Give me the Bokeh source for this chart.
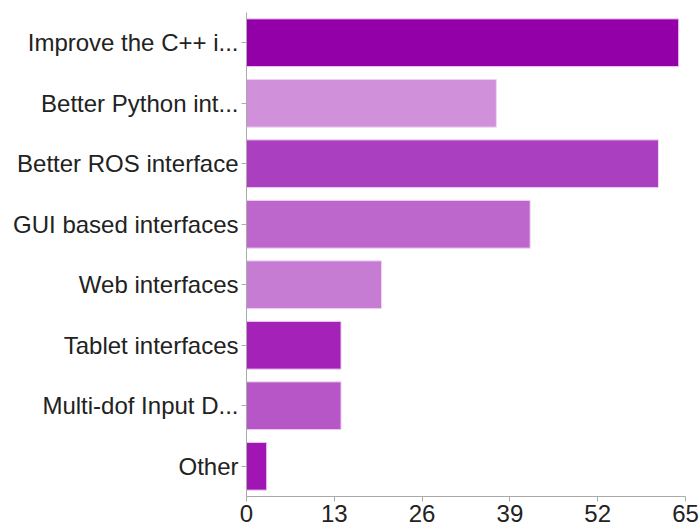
from bokeh.plotting import figure
from bokeh.models import ColumnDataSource, FixedTicker, Range1d, FactorRange
from bokeh.embed import file_html
from bokeh.resources import INLINE

categories = [
    "Improve the C++ i...",
    "Better Python int...",
    "Better ROS interface",
    "GUI based interfaces",
    "Web interfaces",
    "Tablet interfaces",
    "Multi-dof Input D...",
    "Other",
]
counts = [64, 37, 61, 42, 20, 14, 14, 3]
bar_colors = ["#9400A8", "#D191DA", "#AA3FBF", "#BD66CC",
              "#C77CD4", "#A522B8", "#B756C7", "#A015B4"]
x_ticks = [0, 13, 26, 39, 52, 65]

source = ColumnDataSource(dict(cat=categories, count=counts, color=bar_colors))

p = figure(
    width=700, height=529,
    y_range=FactorRange(factors=list(reversed(categories)), range_padding=0.0),
    x_range=Range1d(0, 65),
    output_backend="svg", toolbar_location=None,
    min_border_left=246, min_border_right=15,
    min_border_top=12, min_border_bottom=33,
)

p.hbar(y="cat", right="count", left=0, height=0.79, source=source,
       fill_color="color", line_color="#F3D6F7", line_width=1)

font = "Liberation Sans"
for ax in (p.xaxis, p.yaxis):
    ax.axis_line_color = "#AAAAAA"
    ax.major_tick_line_color = "#AAAAAA"
    ax.major_tick_out = 5
    ax.major_tick_in = 0
    ax.minor_tick_line_color = None
    ax.major_label_text_font = font
    ax.major_label_text_font_size = "24px"
    ax.major_label_text_color = "#222222"

p.xaxis.ticker = FixedTicker(ticks=x_ticks)
p.xaxis.major_label_standoff = 3
p.yaxis.major_label_standoff = 3

p.xgrid.grid_line_color = None
p.ygrid.grid_line_color = None
p.outline_line_color = None
p.background_fill_color = "white"

open("out.html", "w").write(file_html(p, INLINE))
